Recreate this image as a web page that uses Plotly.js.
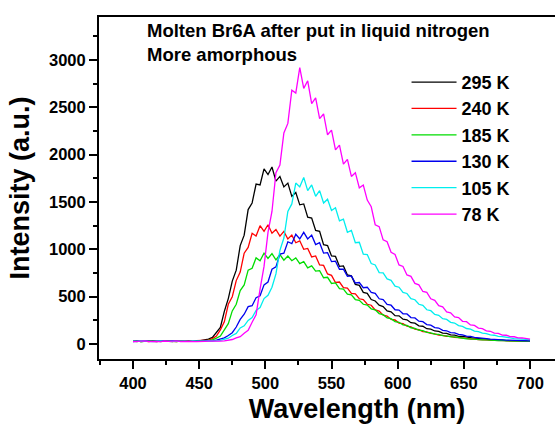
<!DOCTYPE html>
<html>
<head>
<meta charset="utf-8">
<script src="https://cdn.plot.ly/plotly-3.0.1.min.js"></script>
<style>
html,body{margin:0;padding:0;background:#fff;overflow:hidden;}
#wrap{width:555px;height:424px;overflow:hidden;position:relative;}
#plot{width:620px;height:424px;}
</style>
</head>
<body>
<div id="wrap"><div id="plot"></div></div>
<script>
// Wavelength grid (nm)
const wavelength = [400,403,406,409,412,415,418,421,424,427,430,433,436,439,442,445,448,451,454,457,460,463,466,469,472,475,478,481,484,487,490,493,496,499,502,505,508,511,514,517,520,523,526,529,532,535,538,541,544,547,550,553,556,559,562,565,568,571,574,577,580,583,586,589,592,595,598,601,604,607,610,613,616,619,622,625,628,631,634,637,640,643,646,649,652,655,658,661,664,667,670,673,676,679,682,685,688,691,694,697,700];

// Intensity (a.u.)
const i295 = [28,33,26,31,35,29,27,34,30,32,27,36,31,29,34,30,31,36,40,
52,70,118,175,345,480,665,780,1040,1150,1420,1490,1690,1680,1850,1790,1870,1720,1770,1660,1700,1560,1600,1470,1480,1340,1330,1200,1190,1050,1040,930,925,820,825,730,720,630,620,545,535,470,455,410,395,350,340,300,298,262,256,225,220,192,188,162,158,138,133,115,112,97,94,82,80,70,68,59,58,51,52,45,46,40,41,37,38,34,35,32,33,31];
const i240 = [31,27,34,29,26,33,30,28,35,31,29,26,33,30,28,32,35,38,36,
42,58,85,150,235,420,500,670,760,960,1020,1170,1140,1250,1190,1260,1170,1210,1140,1190,1110,1150,1070,1090,1000,1010,920,930,835,830,740,725,650,655,595,590,535,530,478,470,420,410,360,348,305,296,260,254,222,215,188,181,158,151,132,128,112,108,94,92,81,80,70,69,60,59,52,53,46,47,42,42,38,39,35,36,33,34,31,32,30,31];
const i185 = [29,34,27,31,28,35,30,26,33,29,31,27,34,30,28,33,29,31,34,
38,44,62,85,150,215,350,420,565,625,780,800,910,880,960,905,955,890,945,885,930,880,910,850,870,805,825,770,775,700,705,640,645,585,580,528,520,470,462,420,412,372,362,322,310,276,268,237,230,203,196,172,166,146,141,124,119,105,102,89,87,76,75,66,64,56,55,49,48,43,44,40,40,36,37,34,35,32,33,30,31,30];
const i130 = [27,31,29,34,28,30,26,33,31,28,35,29,27,32,30,28,31,29,33,
35,34,42,52,65,90,120,180,260,315,395,405,490,510,625,655,790,815,950,960,1080,1060,1160,1110,1180,1110,1150,1050,1070,960,965,870,875,790,790,715,720,645,650,595,600,545,535,478,470,418,410,362,358,320,318,280,276,242,236,206,200,174,169,145,140,121,117,101,97,84,82,71,69,60,58,51,51,45,45,41,41,37,38,35,35,34];
const i105 = [30,27,33,29,32,26,31,34,28,30,27,33,29,31,28,34,30,27,31,
32,30,35,38,52,62,90,112,170,192,250,280,355,385,480,515,600,740,990,1120,1400,1480,1700,1660,1760,1620,1680,1560,1620,1490,1530,1410,1440,1300,1320,1180,1200,1070,1075,950,945,850,835,755,752,688,672,612,600,545,534,480,468,420,408,362,352,312,303,268,260,229,222,195,187,164,157,137,132,115,110,96,93,81,79,69,66,58,57,50,49,46];
const i78 = [26,30,28,33,27,31,29,25,32,28,30,34,27,29,31,28,26,30,29,
30,28,32,30,34,42,48,65,78,115,145,230,310,580,820,1180,1400,1810,1890,2230,2330,2680,2650,2920,2700,2780,2540,2600,2380,2430,2210,2260,2050,2100,1900,1950,1770,1810,1650,1680,1520,1450,1260,1240,1100,1080,970,945,835,820,730,715,640,625,555,545,478,462,405,392,340,330,286,280,240,236,202,196,168,163,140,135,115,112,95,93,79,77,66,64,54,52];

const seriesNames = ['295 K','240 K','185 K','130 K','105 K','78 K'];
const seriesValues = [i295, i240, i185, i130, i105, i78];
const seriesColors = ['#000000','#ff0000','#00dd00','#0000ee','#00eeee','#ff00ff'];

const xTickVals = [400,450,500,550,600,650,700];
const yTickVals = [0,500,1000,1500,2000,2500,3000];

const noteText = 'Molten Br6A after put in liquid nitrogen<br>More amorphous';
const xTitle = 'Wavelength (nm)';
const yTitle = 'Intensity (a.u.)';

const FONT = 'Liberation Sans, Arial, Helvetica, sans-serif';

const traces = seriesNames.map((name, k) => ({
  x: wavelength,
  y: seriesValues[k],
  name: name,
  type: 'scatter',
  mode: 'lines',
  line: {color: seriesColors[k], width: 1.3}
}));

const layout = {
  width: 620,
  height: 424,
  margin: {l: 99, r: 5, t: 17, b: 65},
  paper_bgcolor: '#ffffff',
  plot_bgcolor: '#ffffff',
  font: {family: FONT, color: '#000', weight: 'bold'},
  showlegend: true,
  legend: {
    x: 0.596, y: 0.863, xanchor: 'left', yanchor: 'top',
    bgcolor: 'rgba(0,0,0,0)', borderwidth: 0,
    font: {family: FONT, size: 18, color: '#000', weight: 'bold'},
    itemwidth: 45
  },
  xaxis: {
    range: [374.3, 764.2],
    tickmode: 'array', tickvals: xTickVals,
    ticks: 'outside', ticklen: 8, tickwidth: 2, tickcolor: '#000',
    minor: {dtick: 25, tick0: 0, ticks: 'outside', ticklen: 4, tickwidth: 2, tickcolor: '#000'},
    showline: true, linewidth: 2, linecolor: '#000', mirror: true,
    showgrid: false, zeroline: false,
    tickfont: {family: FONT, size: 16.5, color: '#000', weight: 'bold'},
    title: {text: xTitle, font: {family: FONT, size: 27, color: '#000', weight: 'bold'}, standoff: 10}
  },
  yaxis: {
    range: [-158, 3454],
    tickmode: 'array', tickvals: yTickVals,
    ticks: 'outside', ticklen: 8, tickwidth: 2, tickcolor: '#000',
    minor: {dtick: 250, tick0: 0, ticks: 'outside', ticklen: 4, tickwidth: 2, tickcolor: '#000'},
    showline: true, linewidth: 2, linecolor: '#000', mirror: true,
    showgrid: false, zeroline: false,
    tickfont: {family: FONT, size: 16.5, color: '#000', weight: 'bold'},
    title: {text: yTitle, font: {family: FONT, size: 27, color: '#000', weight: 'bold'}, standoff: 12}
  },
  annotations: [{
    text: noteText, xref: 'paper', yref: 'paper',
    x: 0.089, y: 0.924, xanchor: 'left', yanchor: 'middle', align: 'left',
    showarrow: false,
    font: {family: FONT, size: 18.5, color: '#000', weight: 'bold'}
  }]
};

Plotly.newPlot('plot', traces, layout, {displayModeBar: false, staticPlot: true});
</script>
</body>
</html>
